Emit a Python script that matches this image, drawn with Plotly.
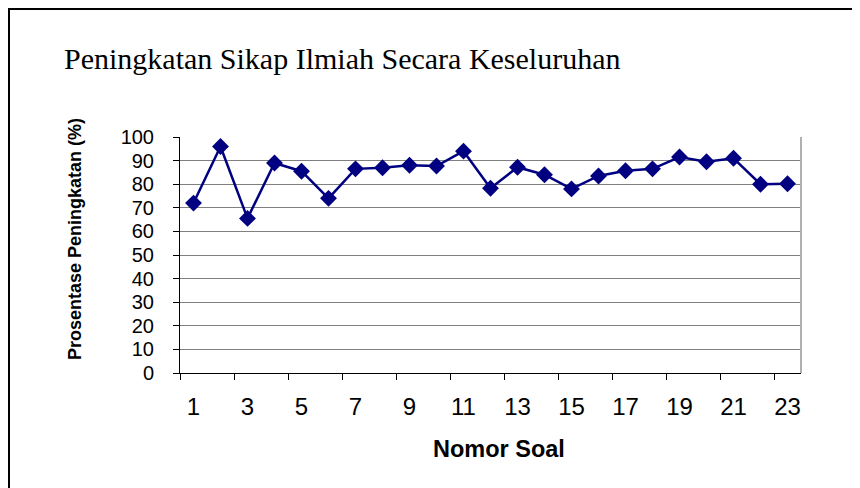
"""Peningkatan Sikap Ilmiah Secara Keseluruhan - line chart."""

import plotly.graph_objects as go

# Data
nomor_soal = list(range(1, 24))
prosentase = [
    72, 96, 65.5, 89, 85.5, 74, 86.5, 87, 88, 87.7, 94,
    78.3, 87.2, 84, 78, 83.5, 85.7, 86.5, 91.5, 89.5, 91, 80, 80.2,
]
label_ticks = nomor_soal[::2]
y_ticks = list(range(0, 101, 10))

SANS = "Liberation Sans, Arial, sans-serif"
SERIF = "Liberation Serif, Times New Roman, serif"
NAVY = "#000080"

# the page body adds an 8px offset, so the figure is 8px smaller
OFF = 8
W, H = 860 - OFF, 488 - OFF

fig = go.Figure()

fig.add_trace(
    go.Scatter(
        x=nomor_soal,
        y=prosentase,
        mode="lines+markers",
        line=dict(color=NAVY, width=2.5),
        marker=dict(symbol="diamond", size=13, color=NAVY),
        showlegend=False,
    )
)

# plot area sits at page x 180..801, y 137..373 px
L, R, T, B = 180 - OFF, 860 - 801, 137 - OFF, 488 - 373
PW, PH = W - L - R, H - T - B


def px_x(px):
    return (px - OFF - L) / PW


def px_y(py):
    return (H - B - (py - OFF)) / PH


# outer chart frame (only top and left edges are visible in the crop)
fig.add_shape(
    type="rect", xref="paper", yref="paper",
    x0=px_x(9), x1=px_x(900), y0=px_y(540), y1=px_y(9),
    line=dict(color="black", width=2),
)
# right border of plot area
fig.add_shape(
    type="line", xref="paper", yref="paper",
    x0=1, x1=1, y0=0, y1=1,
    line=dict(color="#b0b0b0", width=2),
)

fig.add_annotation(
    text="Peningkatan Sikap Ilmiah Secara Keseluruhan",
    xref="paper", yref="paper",
    x=px_x(62), y=px_y(58),
    xanchor="left", yanchor="middle",
    showarrow=False,
    font=dict(family=SERIF, size=30, color="black"),
)
fig.add_annotation(
    text="<b>Nomor Soal</b>",
    xref="paper", yref="paper",
    x=px_x(499), y=px_y(449),
    xanchor="center", yanchor="middle",
    showarrow=False,
    font=dict(family=SANS, size=23.5, color="black"),
)
fig.add_annotation(
    text="<b>Prosentase Peningkatan (%)</b>",
    xref="paper", yref="paper",
    x=px_x(75), y=px_y(239),
    xanchor="center", yanchor="middle",
    textangle=-90,
    showarrow=False,
    font=dict(family=SANS, size=18, color="black"),
)

# ticks sit on category boundaries, labels on every other category
boundaries = [v - 0.5 for v in label_ticks]

fig.update_xaxes(
    range=[0.5, 23.5],
    tickvals=label_ticks,
    ticks="",
    tickangle=0,
    showline=True,
    linecolor="black",
    linewidth=1,
    showgrid=False,
    zeroline=False,
    automargin=False,
    ticklabelstandoff=12,
    tickfont=dict(family=SANS, size=24, color="black"),
    minor=dict(tickvals=boundaries, ticks="outside", ticklen=6, tickcolor="black", showgrid=False),
)

fig.update_yaxes(
    range=[0, 100],
    tickvals=y_ticks,
    ticks="outside",
    ticklen=6,
    tickcolor="black",
    showline=True,
    linecolor="black",
    linewidth=1,
    showgrid=True,
    gridcolor="#808080",
    gridwidth=1,
    zeroline=False,
    automargin=False,
    ticklabelstandoff=15,
    tickfont=dict(family=SANS, size=20, color="black"),
)

fig.update_layout(
    width=W,
    height=H,
    margin=dict(l=L, r=R, t=T, b=B),
    paper_bgcolor="white",
    plot_bgcolor="white",
)

fig.write_html("out.html")
